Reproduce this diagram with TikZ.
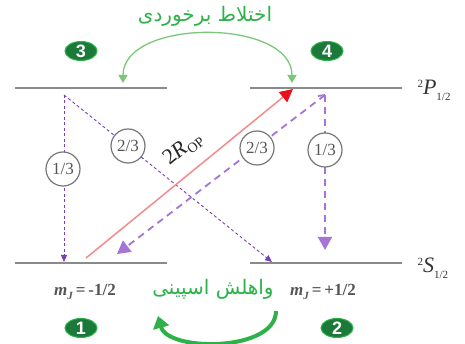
\documentclass[tikz,border=0pt]{standalone}
\usepackage{fontspec}
\setmainfont{Liberation Serif}
\newfontfamily\arabicfont[Script=Arabic]{DejaVu Sans}
\newfontfamily\badgefont{Liberation Sans}
\TeXXeTstate=1
\usetikzlibrary{arrows.meta,shapes.geometric}
\definecolor{lvl}{HTML}{8A8A8A}
\definecolor{darkpurple}{HTML}{7A3FB0}
\definecolor{lightpurple}{HTML}{A574D6}
\definecolor{salmon}{HTML}{F48A8A}
\definecolor{tipred}{HTML}{E8101A}
\definecolor{pgreen}{HTML}{2DB24A}
\definecolor{lgreen}{HTML}{78C878}
\definecolor{badgegreen}{HTML}{1B7A3A}
\definecolor{txtgray}{HTML}{555555}
\begin{document}
\begin{tikzpicture}[x=1pt,y=-1pt,
  level/.style={draw=lvl,line width=2pt},
  badge/.style={ellipse,fill=badgegreen,draw=pgreen,line width=1pt,minimum width=32pt,minimum height=19pt,inner sep=0pt,text=white,font=\badgefont\bfseries\fontsize{18}{18}\selectfont},
  frac/.style={circle,draw=txtgray!80,fill=white,line width=1.2pt,minimum size=34pt,inner sep=0pt,text=txtgray,font=\fontsize{17}{17}\selectfont},
  thinpurple/.style={draw=darkpurple,line width=0.9pt,dash pattern=on 3pt off 2.5pt,-{Triangle[length=7pt,width=6pt]}},
  thickpurple/.style={draw=lightpurple,line width=1.8pt,dash pattern=on 7pt off 5pt,-{Triangle[length=13pt,width=14pt]}},
  mlabel/.style={text=txtgray,font=\bfseries\fontsize{17}{17}\selectfont},
  termlabel/.style={text=black!80,font=\fontsize{22}{22}\selectfont,anchor=west},
  pers/.style={text=pgreen,font=\arabicfont\fontsize{20}{20}\selectfont}
]
\useasboundingbox (0,0) rectangle (465,344);
% levels
\coordinate (p3a) at (15,88); \coordinate (p3b) at (167,88);
\coordinate (p4a) at (250,88); \coordinate (p4b) at (402,88);
\coordinate (s1a) at (15,263); \coordinate (s1b) at (167,263);
\coordinate (s2a) at (250,263); \coordinate (s2b) at (402,263);
\draw[level] (p3a) -- (p3b);
\draw[level] (p4a) -- (p4b);
\draw[level] (s1a) -- (s1b);
\draw[level] (s2a) -- (s2b);
\node[termlabel] (P) at (414,90) {\raisebox{7pt}{\fontsize{11}{11}\selectfont 2}\textit{P}\raisebox{-6pt}{\fontsize{11}{11}\selectfont 1/2}};
\node[termlabel] (S) at (414,268) {\raisebox{7pt}{\fontsize{11}{11}\selectfont 2}\textit{S}\raisebox{-6pt}{\fontsize{11}{11}\selectfont 1/2}};
% badges
\node[badge] (b3) at (81,51) {3};
\node[badge] (b4) at (327,51) {4};
\node[badge] (b1) at (81,328) {1};
\node[badge] (b2) at (337,328) {2};
% persian labels
\node[pers] (mix) at (205,16) {\beginR اختلاط برخوردی\endR};
\node[pers] (relax) at (213,289) {\beginR واهلش اسپینی\endR};
% top green arc
\coordinate (ga) at (123,83); \coordinate (gb) at (292,83);
\draw[draw=lgreen,line width=1.3pt,{Triangle[length=8pt,width=9pt]}-{Triangle[length=8pt,width=9pt]}]
  (ga) .. controls (123,18) and (292,18) .. (gb);
% bottom green arc
\coordinate (ra) at (276,311); \coordinate (rb) at (158,316);
\draw[draw=pgreen,line width=4pt,-{Triangle[length=12pt,width=16pt]}]
  (ra) .. controls (276,352) and (168,352) .. (rb);
% m_J labels
\node[mlabel] (m1) at (85,292) {\textit{m}\raisebox{-4pt}{\fontsize{11}{11}\selectfont\textit{J}}\,=\,-1/2};
\node[mlabel] (m2) at (323,292) {\textit{m}\raisebox{-4pt}{\fontsize{11}{11}\selectfont\textit{J}}\,=\,+1/2};
% transitions
\coordinate (t3) at (64,95);
\coordinate (t3b) at (64,262);
\coordinate (t2b) at (272,262);
\coordinate (r1) at (86,258);
\coordinate (r4) at (293,89);
\coordinate (t4) at (325,95);
\coordinate (t4a) at (117,254);
\coordinate (t4b) at (325,250);
\draw[thinpurple] (t3) -- (t3b);
\draw[thinpurple] (t3) -- (t2b);
\draw[draw=lightpurple,line width=1.8pt] (318,96) -- (t4);
\draw[thickpurple] (t4) -- (t4a);
\draw[thickpurple] (t4) -- (t4b);
\draw[draw=salmon,line width=1.5pt,-{Triangle[length=13pt,width=13pt,fill=tipred,color=tipred]}] (r1) -- (r4);
% fraction labels
\node[frac] (f1) at (63,169) {1/3};
\node[frac] (f2) at (128,146) {2/3};
\node[frac] (f3) at (257,148) {2/3};
\node[frac] (f4) at (325,150) {1/3};
\node[rotate=39,text=black!85,font=\fontsize{22}{22}\selectfont,inner sep=1pt] (rop) at (183,149) {2\textit{R}\raisebox{-5pt}{\fontsize{14}{14}\selectfont OP}};
\end{tikzpicture}
\end{document}
